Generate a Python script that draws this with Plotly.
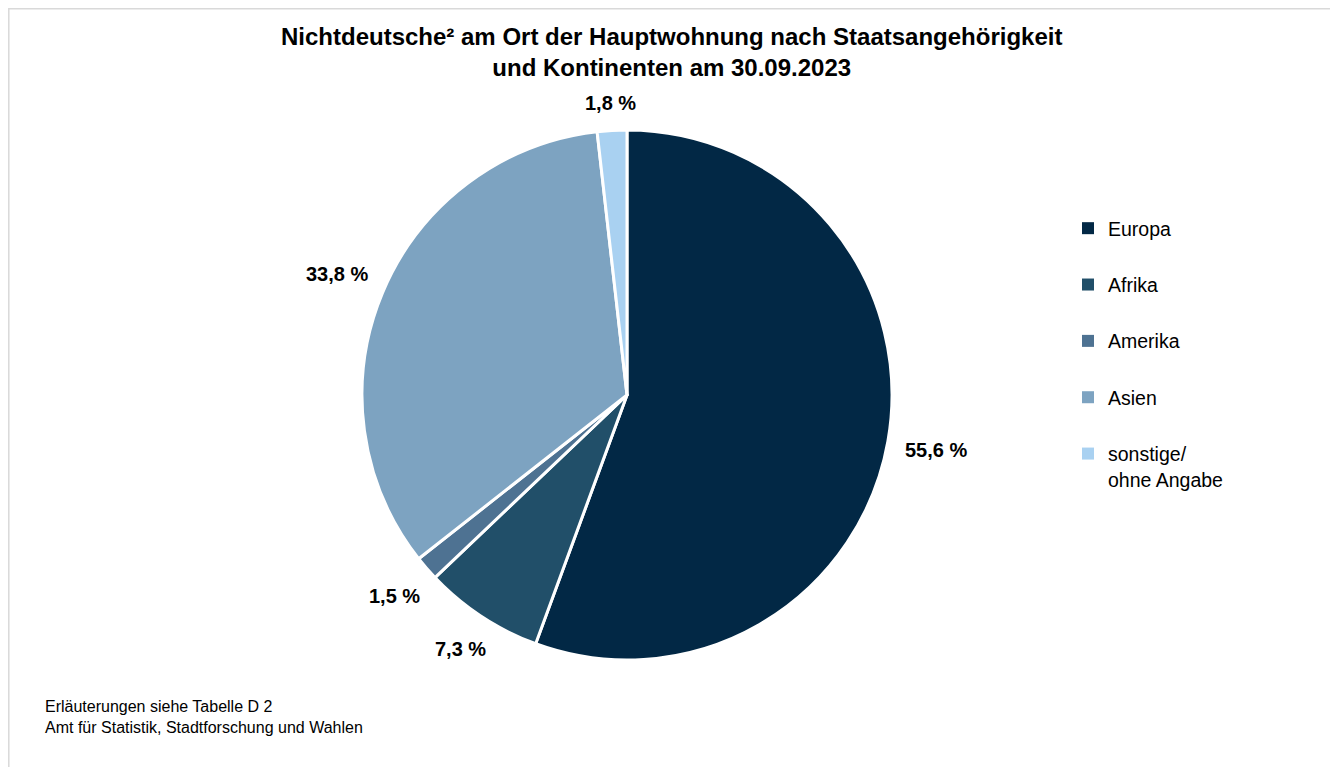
import math
import plotly.graph_objects as go

# ---- data ----
categories = ["Europa", "Afrika", "Amerika", "Asien", "sonstige/<br>ohne Angabe"]
shares = [55.6, 7.3, 1.5, 33.8, 1.8]
share_labels = ["55,6 %", "7,3 %", "1,5 %", "33,8 %", "1,8 %"]
colors = ["#022845", "#214f69", "#4e7292", "#7da3c1", "#a9d1f1"]

title_text = "<b>Nichtdeutsche² am Ort der Hauptwohnung nach Staatsangehörigkeit<br>und Kontinenten am 30.09.2023</b>"
note_text = "Erläuterungen siehe Tabelle D 2<br>Amt für Statistik, Stadtforschung und Wahlen"

W, H = 1338, 767
OFF = 8  # page body margin of the html page
FONT = "Liberation Sans, Arial, sans-serif"


def px(sx):
    return (sx - OFF) / W


def py(sy):
    return 1 - (sy - OFF) / H


fig = go.Figure()

cx, cy, r = 627, 395, 265
fig.add_trace(go.Pie(
    labels=categories,
    values=shares,
    text=share_labels,
    textinfo="none",
    marker=dict(colors=colors, line=dict(color="#ffffff", width=3)),
    sort=False,
    direction="clockwise",
    rotation=0,
    showlegend=False,
    hoverinfo="label+percent",
    domain=dict(x=[px(cx - r), px(cx + r)], y=[py(cy + r), py(cy - r)]),
))

# legend entries (one per category, spaced like the original)
for i, (c, col) in enumerate(zip(categories, colors)):
    fig.add_trace(go.Scatter(
        x=[None], y=[None], mode="markers", name=c,
        marker=dict(symbol="square", size=10, color=col),
        legendgroup=f"g{i}", showlegend=True, hoverinfo="skip",
    ))

# outside percentage labels, placed at each slice's mid-angle
LBL_SIZE = 20
cw = {"%": 0.889, ",": 0.278, " ": 0.278}
annotations = []
total = sum(shares)
cum = 0.0
for v, t in zip(shares, share_labels):
    mid = (cum + v / 2) / total * 2 * math.pi
    cum += v
    s, c = math.sin(mid), math.cos(mid)
    hw = 0.5 * LBL_SIZE * sum(cw.get(ch, 0.556) for ch in t)
    hh = 0.5 * LBL_SIZE * 0.95
    dist = r + 17 + abs(s) * hw + abs(c) * hh
    sx, sy = cx + dist * s, cy - dist * c
    annotations.append(dict(text=f"<b>{t}</b>", x=px(sx), y=py(sy), xref="paper", yref="paper",
                            xanchor="center", yanchor="middle", showarrow=False,
                            font=dict(family=FONT, size=LBL_SIZE, color="#000000")))

annotations.append(dict(text=title_text, xref="paper", yref="paper", x=px(671), y=py(51.5),
                        xanchor="center", yanchor="middle", showarrow=False,
                        font=dict(family=FONT, size=24, color="#000000")))
annotations.append(dict(text=note_text, xref="paper", yref="paper", x=px(43), y=py(695.5),
                        xanchor="left", yanchor="top", align="left", showarrow=False,
                        font=dict(family=FONT, size=16, color="#000000")))

fig.update_layout(
    width=W, height=H,
    margin=dict(l=0, r=0, t=0, b=0),
    paper_bgcolor="#ffffff", plot_bgcolor="#ffffff",
    font=dict(family=FONT, size=18, color="#000000"),
    xaxis=dict(visible=False), yaxis=dict(visible=False),
    legend=dict(x=px(1068), xanchor="left", y=py(209), yanchor="top",
                font=dict(family=FONT, size=19.5, color="#000000"),
                tracegroupgap=28, valign="top", itemsizing="constant",
                bgcolor="rgba(0,0,0,0)"),
    annotations=annotations,
    shapes=[dict(type="rect", xref="paper", yref="paper", x0=px(8.8), x1=px(1336.5),
                 y0=-0.02, y1=py(8.8), line=dict(color="#d9d9d9", width=1.5),
                 fillcolor="rgba(0,0,0,0)", layer="below")],
)

fig.write_html("out.html")
